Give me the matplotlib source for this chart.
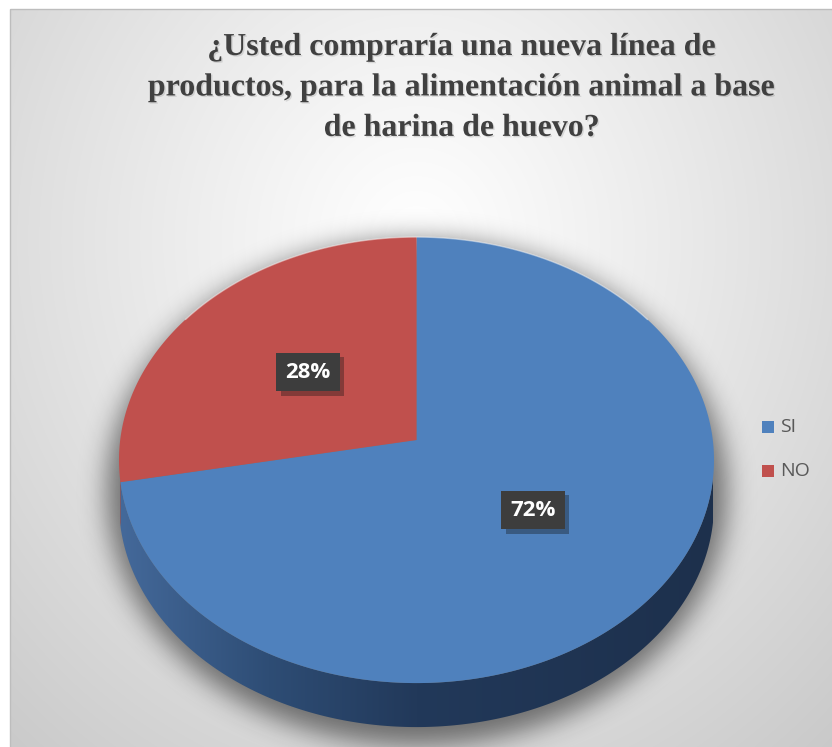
import numpy as np
import matplotlib
matplotlib.use("Agg")
import matplotlib.pyplot as plt
from matplotlib.patches import Polygon, Rectangle
from matplotlib import patheffects

# Survey answers
categories = ["SI", "NO"]
values = [72, 28]
colors = ["#4f81bd", "#c0504d"]
side_colors = [["#44699a", "#2e4d75", "#22395a", "#1d304c"],
               ["#9a403d", "#7c3331", "#6a2b29", "#5c2523"]]
title = ("¿Usted compraría una nueva línea de\n"
         "productos, para la alimentación animal a base\n"
         "de harina de huevo?")

W, H = 832, 747
fig = plt.figure(figsize=(W / 100, H / 100), dpi=100, facecolor="white")
ax = fig.add_axes([0, 0, 1, 1])
ax.axis("off")

# radial grey background of the chart area
x0, y0 = 10, 9
yy, xx = np.mgrid[y0:H, x0:W]
d = np.sqrt(((xx - 416) / 620.0) ** 2 + ((yy - 240) / 680.0) ** 2)
v = np.clip(1 - 0.21 * d ** 1.1, 0, 1)
bg = np.dstack([v, v, v])
ax.imshow(bg, extent=(x0, W, H, y0), origin="upper", aspect="auto", zorder=0)
ax.add_patch(Rectangle((x0, y0), W - x0 + 5, H - y0 + 5, fill=False,
                       ec="#bdbdbd", lw=1, zorder=1))

# pie geometry (pixels), seen in slight perspective
cx, cc, rx, ry, depth, k = 416.5, 440, 296.3, 221.2, 44, 0.09


def arc(t0, t1, n=300, dy=0.0):
    t = np.radians(np.linspace(t0, t1, n))
    s = 1 + k * np.cos(t)
    return np.column_stack([cx + rx * np.sin(t) / s, cc - ry * np.cos(t) / s + dy])


def blur(a, s):
    g = np.arange(-3 * s, 3 * s + 1)
    g = np.exp(-0.5 * (g / s) ** 2)
    g /= g.sum()
    a = np.apply_along_axis(lambda r: np.convolve(r, g, mode="same"), 1, a)
    a = np.apply_along_axis(lambda c: np.convolve(c, g, mode="same"), 0, a)
    return a


# soft shadow under the pie
sy, sx = np.mgrid[0:H, 0:W]
mask = (((sx - cx) / (rx + 14)) ** 2 + ((sy - 492) / (ry + 32)) ** 2 <= 1).astype(float)
mask = blur(mask, 13)
shadow = np.zeros((H, W, 4))
shadow[..., 3] = 0.5 * mask
ax.imshow(shadow, extent=(0, W, H, 0), origin="upper", aspect="auto", zorder=2)

# slice angles, clockwise from 12 o'clock
total = float(sum(values))
bounds = np.concatenate([[0], np.cumsum(values) / total * 360.0])

# side walls, between the two silhouette tangents
t_right = np.degrees(np.arccos(-k))
t_left = 360 - t_right
for i in range(len(values)):
    a0, a1 = max(bounds[i], t_right), min(bounds[i + 1], t_left)
    if a1 <= a0:
        continue
    top = arc(a0, a1)
    bot = arc(a1, a0, dy=depth)
    wall = Polygon(np.vstack([top, bot]), closed=True, fc="none", ec="none",
                   transform=ax.transData, zorder=3)
    ax.add_patch(wall)
    stops = np.array([0, 0.25, 0.5, 1.0])
    rgb = np.array([matplotlib.colors.to_rgb(c) for c in side_colors[i]])
    fx = np.linspace(0, 1, 400)
    grad = np.stack([np.interp(fx, stops, rgb[:, j]) for j in range(3)], axis=-1)
    grad = np.repeat(grad[None, :, :], 2, axis=0)
    im = ax.imshow(grad, extent=(cx - rx, cx + rx, 700 + depth, 200),
                   origin="upper", aspect="auto", zorder=3)
    im.set_clip_path(wall)

# top faces
for i in range(len(values)):
    pts = np.vstack([[cx, cc], arc(bounds[i], bounds[i + 1]), [cx, cc]])
    ax.add_patch(Polygon(pts, closed=True, fc=colors[i], ec="none", zorder=4))
ax.plot(*arc(-55, 55).T, color="white", lw=1.0, alpha=0.45, zorder=5)

# data labels
label_pos = [(533, 510), (308, 372)]
for val, (lx, ly) in zip(values, label_pos):
    t = ax.text(lx, ly, f"{round(val / total * 100)}%", ha="center", va="center",
                color="white", fontsize=16, fontweight="bold", family="Open Sans",
                zorder=6,
                bbox=dict(boxstyle="square,pad=0.4", fc="#3d3d3d", ec="none"))
    t.get_bbox_patch().set_path_effects(
        [patheffects.SimplePatchShadow(offset=(3, -3), alpha=0.35),
         patheffects.Normal()])

# legend
for i, name in enumerate(categories):
    ly = 427 + i * 44
    ax.add_patch(Rectangle((762, ly - 6), 12, 12, fc=colors[i], ec="none", zorder=6))
    ax.text(780, ly, name, ha="left", va="center", fontsize=14,
            family="Open Sans", color="#595959", zorder=6)

# title
ax.text(462, 33, title, ha="center", va="top", fontsize=23, fontweight="bold",
        family="Liberation Serif", color="#404040", linespacing=1.52, zorder=6,
        path_effects=[patheffects.withSimplePatchShadow(offset=(1, -1), alpha=0.12)])

ax.set_xlim(0, W)
ax.set_ylim(H, 0)
fig.savefig("out.png", dpi=100, facecolor="white")
